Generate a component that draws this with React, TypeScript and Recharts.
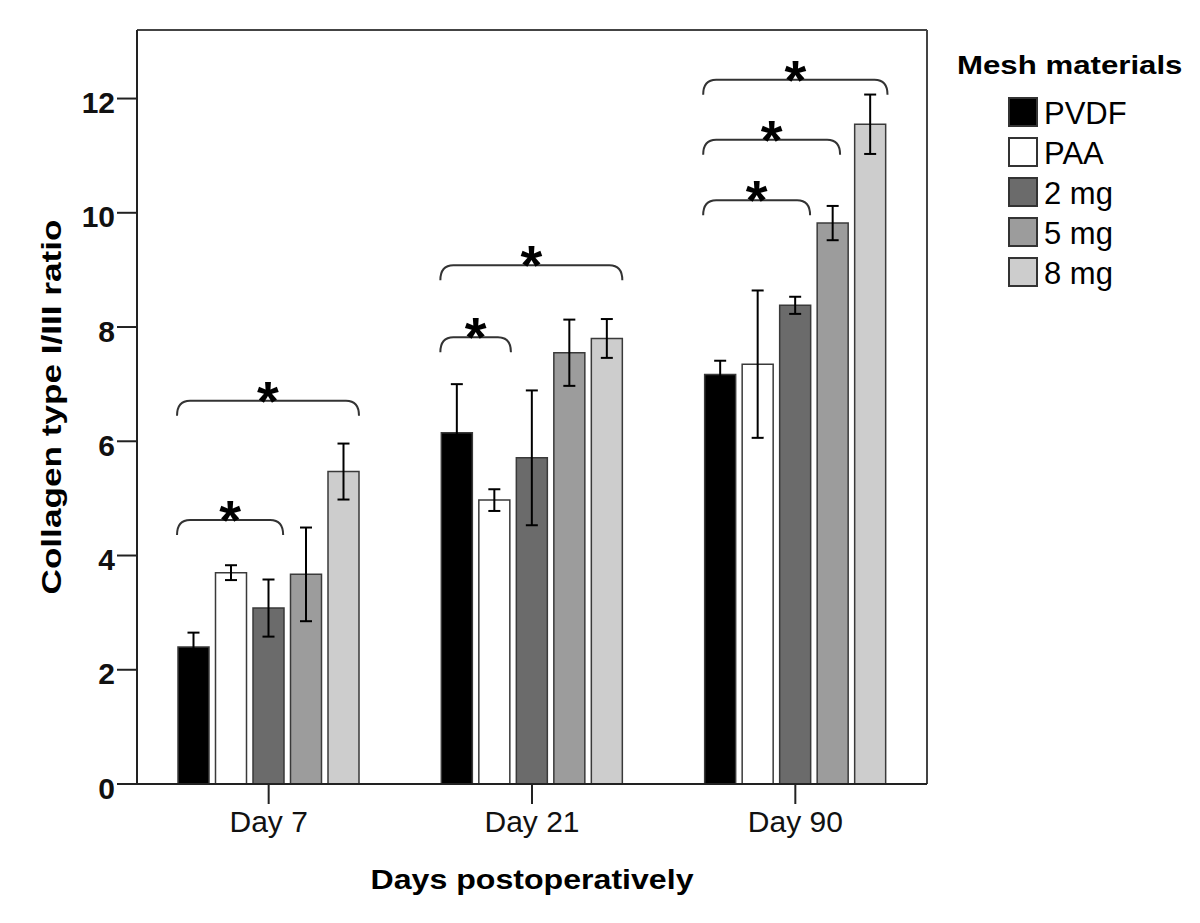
import React from "react";
import { BarChart, Bar, XAxis, YAxis, ErrorBar, ReferenceLine } from "recharts";

const FONT = '"Liberation Sans", Arial, sans-serif';

const days = ["Day 7", "Day 21", "Day 90"];
const dayPos = [0.5, 1.5, 2.5]; // centre of each day on the numeric twin axis
const materials = ["PVDF", "PAA", "2 mg", "5 mg", "8 mg"];
const fills = ["#000000", "#ffffff", "#6b6b6b", "#9c9c9c", "#cdcdcd"];

// mean collagen I/III ratio per day, with error (half length of the bar)
const pvdf = [2.4, 6.15, 7.17];
const pvdfErr = [0.25, 0.85, 0.24];
const paa = [3.7, 4.97, 7.35];
const paaErr = [0.13, 0.19, 1.29];
const mg2 = [3.08, 5.71, 8.38];
const mg2Err = [0.5, 1.18, 0.15];
const mg5 = [3.67, 7.55, 9.82];
const mg5Err = [0.82, 0.58, 0.3];
const mg8 = [5.47, 7.8, 11.55];
const mg8Err = [0.49, 0.34, 0.52];

const yTicks = [0, 2, 4, 6, 8, 10, 12];
const yMax = 13.2;

// significance brackets: day index, start/end inside the day band (0..1), height
const bracketDay = [0, 0, 1, 1, 2, 2, 2];
const bracketFrom = [0.152, 0.152, 0.152, 0.152, 0.15, 0.15, 0.15];
const bracketTo = [0.843, 0.555, 0.843, 0.42, 0.85, 0.67, 0.556];
const bracketLevel = [6.71, 4.62, 9.08, 7.82, 12.33, 11.28, 10.22];

const seriesValues = [pvdf, paa, mg2, mg5, mg8];
const seriesErrors = [pvdfErr, paaErr, mg2Err, mg5Err, mg8Err];

const data = days.map((day, i) => {
  const row: any = { day, pos: dayPos[i] };
  seriesValues.forEach((vals, s) => {
    row["s" + s] = vals[i];
    row["e" + s] = seriesErrors[s][i];
  });
  return row;
});

const Bracket = (props: any) => {
  const { x1, x2, y1 } = props;
  const r = 13;
  const drop = 15;
  const d = `M${x1},${y1 + drop} Q${x1},${y1} ${x1 + r},${y1} L${x2 - r},${y1} Q${x2},${y1} ${x2},${y1 + drop}`;
  return (
    <g>
      <path d={d} fill="none" stroke="#333" strokeWidth={2} />
      <text
        x={(x1 + x2) / 2}
        y={y1 + 19}
        textAnchor="middle"
        fontSize={56}
        fontWeight="bold"
        fontFamily={FONT}
        fill="#000"
      >
        *
      </text>
    </g>
  );
};

const XTitle = (props: any) => {
  const vb = props.viewBox;
  return (
    <text
      x={vb.x + vb.width / 2}
      y={vb.y + 105}
      textAnchor="middle"
      fontSize={28}
      fontWeight="bold"
      fontFamily={FONT}
      fill="#000"
      textLength={323}
      lengthAdjust="spacingAndGlyphs"
    >
      Days postoperatively
    </text>
  );
};

const YTitle = (props: any) => {
  const vb = props.viewBox;
  const cx = vb.x + 53;
  const cy = vb.y + vb.height / 2;
  return (
    <text
      x={cx}
      y={cy}
      transform={`rotate(-90, ${cx}, ${cy})`}
      textAnchor="middle"
      fontSize={27}
      fontWeight="bold"
      fontFamily={FONT}
      fill="#000"
      textLength={375}
      lengthAdjust="spacingAndGlyphs"
    >
      Collagen type I/III ratio
    </text>
  );
};

function MeshLegend() {
  return (
    <div style={{ position: "absolute", left: 949, top: 44, width: 240, height: 260, fontFamily: FONT, color: "#000" }}>
      <div
        style={{
          position: "absolute",
          left: 0,
          top: 0,
          fontSize: 26,
          lineHeight: "26px",
          fontWeight: "bold",
          whiteSpace: "nowrap",
          transform: "scaleX(1.2)",
          transformOrigin: "left top",
        }}
      >
        Mesh materials
      </div>
      {materials.map((m, i) => (
        <div
          key={m}
          style={{ position: "absolute", left: 51, top: 45 + i * 40, height: 30, display: "flex", alignItems: "center" }}
        >
          <span
            style={{
              display: "inline-block",
              width: 30,
              height: 30,
              boxSizing: "border-box",
              background: fills[i],
              border: "2px solid #333",
            }}
          />
          <span style={{ fontSize: 31, lineHeight: "30px", marginLeft: 6, marginTop: 3, whiteSpace: "nowrap" }}>{m}</span>
        </div>
      ))}
    </div>
  );
}

export default function App() {
  return (
    <div style={{ position: "relative", width: 1184, height: 907 }}>
      <BarChart
        width={1184}
        height={907}
        data={data}
        margin={{ top: 22, right: 265, bottom: 0, left: 0 }}
        barSize={31}
        barGap={6.5}
      >
        <XAxis
          dataKey="day"
          height={131}
          tickSize={20}
          tickMargin={7}
          axisLine={{ stroke: "#222", strokeWidth: 2 }}
          tickLine={{ stroke: "#222", strokeWidth: 2 }}
          tick={{ fontSize: 30, fill: "#111", fontFamily: FONT }}
          label={XTitle}
        />
        {/* numeric twin of the category axis, one unit per day, used for brackets and frame */}
        <XAxis xAxisId="frame" dataKey="pos" type="number" domain={[0, 3]} allowDataOverflow hide />
        <YAxis
          domain={[0, yMax]}
          ticks={yTicks}
          width={129}
          tickSize={20}
          tickMargin={2}
          axisLine={{ stroke: "#222", strokeWidth: 2 }}
          tickLine={{ stroke: "#222", strokeWidth: 2 }}
          tick={{ fontSize: 30, fontWeight: "bold", fill: "#111", fontFamily: FONT, dy: 4 }}
          label={YTitle}
        />
        {/* top and right frame */}
        <ReferenceLine y={yMax} stroke="#444" strokeWidth={2} ifOverflow="visible" />
        <ReferenceLine xAxisId="frame" x={3} stroke="#444" strokeWidth={2} ifOverflow="visible" />
        {materials.map((m, s) => (
          <Bar
            key={m}
            dataKey={"s" + s}
            name={m}
            fill={fills[s]}
            stroke="#3a3a3a"
            strokeWidth={1.5}
            isAnimationActive={false}
          >
            <ErrorBar dataKey={"e" + s} direction="y" width={6} stroke="#000" strokeWidth={2} />
          </Bar>
        ))}
        {bracketDay.map((d, i) => (
          <ReferenceLine
            key={"br" + i}
            xAxisId="frame"
            ifOverflow="visible"
            segment={[
              { x: d + bracketFrom[i], y: bracketLevel[i] },
              { x: d + bracketTo[i], y: bracketLevel[i] },
            ]}
            shape={Bracket}
          />
        ))}
      </BarChart>
      <MeshLegend />
    </div>
  );
}
